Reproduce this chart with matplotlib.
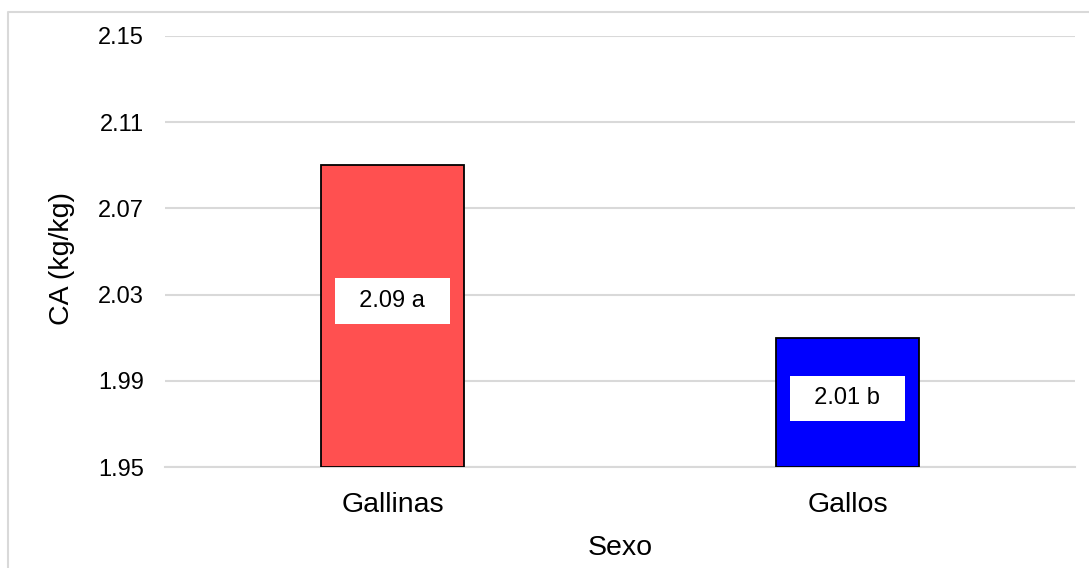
import matplotlib.pyplot as plt
from matplotlib.lines import Line2D

categorias = ["Gallinas", "Gallos"]
valores = [2.09, 2.01]
etiquetas = ["2.09 a", "2.01 b"]
colores = ["#FF5050", "#0000FF"]
yticks = [1.95, 1.99, 2.03, 2.07, 2.11, 2.15]

plt.rcParams['font.family'] = ['Liberation Sans', 'DejaVu Sans']

fig = plt.figure(figsize=(10.89, 5.68), dpi=100)
ax = fig.add_axes([165 / 1089, 1 - 467 / 568, 910 / 1089, 431 / 568])

x = range(len(categorias))
base = yticks[0]
bars = ax.bar(x, [v - base for v in valores], bottom=base, width=0.314,
              color=colores, edgecolor="black", linewidth=1.3, zorder=3)

# etiquetas dentro de las barras
frac = [0.55, 0.53]
for i, b in enumerate(bars):
    yc = base + (valores[i] - base) * frac[i]
    ax.text(i, yc, "  " + etiquetas[i] + "  ", ha="center", va="center",
            fontsize=17, zorder=4,
            bbox=dict(boxstyle="square,pad=0.5", facecolor="white", edgecolor="none"))

ax.set_xlim(-0.5, 1.5)
ax.set_ylim(yticks[0], yticks[-1])
ax.set_yticks(yticks)
ax.set_yticklabels([f"{t:.2f}" for t in yticks], fontsize=17)
ax.set_xticks(list(x))
ax.set_xticklabels(categorias, fontsize=20.5)
ax.tick_params(length=0)
ax.tick_params(axis="x", pad=18)
ax.tick_params(axis="y", pad=15)
ax.yaxis.grid(True, color="#D9D9D9", linewidth=1.5, zorder=0)
ax.set_axisbelow(True)
for s in ["top", "right", "left"]:
    ax.spines[s].set_visible(False)
ax.spines["bottom"].set_color("#D9D9D9")
ax.spines["bottom"].set_linewidth(1.5)

ax.set_xlabel("Sexo", fontsize=20.5, labelpad=12)
ax.set_ylabel("CA (kg/kg)", fontsize=20.5, labelpad=17)
ax.yaxis.label.set_y(0.483)

# borde del gráfico
fig.add_artist(Line2D([7.5 / 1089, 7.5 / 1089, 1.0], [0.0, 1 - 11.5 / 568, 1 - 11.5 / 568],
                      transform=fig.transFigure, color="#D9D9D9", linewidth=1.5))

fig.savefig("out.png", dpi=100)
